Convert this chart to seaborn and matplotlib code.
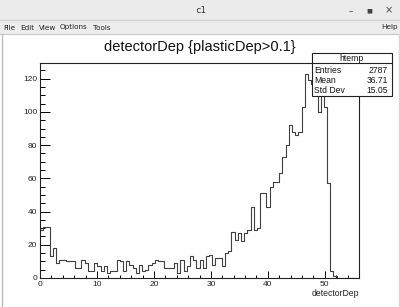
import numpy as np
import pandas as pd
import matplotlib
matplotlib.use("Agg")
import matplotlib.pyplot as plt
from matplotlib.patches import Rectangle
from matplotlib.lines import Line2D
from matplotlib.ticker import MultipleLocator
import seaborn as sns

# ---------------- data ----------------
x_min, x_max, n_bins = 0.0, 56.0, 100
counts = [29, 31, 31, 13, 18, 9, 11, 11, 10, 10,
          10, 6, 6, 11, 9, 4, 4, 9, 7, 4,
          7, 3, 4, 4, 11, 10, 4, 10, 8, 6,
          3, 8, 4, 5, 8, 9, 11, 10, 10, 6,
          6, 6, 9, 3, 11, 4, 7, 13, 11, 6,
          11, 6, 13, 14, 8, 12, 12, 7, 15, 16,
          28, 23, 27, 22, 27, 29, 43, 29, 30, 51,
          51, 43, 55, 58, 58, 63, 73, 80, 92, 88,
          86, 88, 103, 123, 119, 117, 113, 100, 112, 103,
          57, 4, 1, 0, 0, 0, 0, 0, 0, 0]
title = "detectorDep {plasticDep>0.1}"
xlabel = "detectorDep"
stats_name = "htemp"
stats_labels = ["Entries", "Mean", "Std Dev"]
stats_values = ["2787", "36.71", "15.05"]
x_ticks = [0, 10, 20, 30, 40, 50]
y_ticks = [0, 20, 40, 60, 80, 100, 120]
menu_items = ["File", "Edit", "View", "Options", "Tools"]
window_title = "c1"

edges = np.linspace(x_min, x_max, n_bins + 1)
centers = 0.5 * (edges[:-1] + edges[1:])
df = pd.DataFrame({"x": centers, "w": counts})

# ---------------- figure ----------------
W, H = 400, 307
fig = plt.figure(figsize=(W / 100, H / 100), dpi=100)
fig.patch.set_facecolor("white")

def fx(px):
    return px / W

def fy(py):
    return 1 - py / H

# window chrome
fig.patches.append(Rectangle((0, fy(20)), 1, 20 / H, transform=fig.transFigure,
                             facecolor="#ebebeb", edgecolor="none", zorder=0))
fig.patches.append(Rectangle((0, fy(34)), 1, 14 / H, transform=fig.transFigure,
                             facecolor="#ededed", edgecolor="none", zorder=0))
fig.lines.append(Line2D([0, 1], [fy(20), fy(20)], transform=fig.transFigure,
                        color="#d0d0d0", lw=0.8))
fig.lines.append(Line2D([0, 1], [fy(34), fy(34)], transform=fig.transFigure,
                        color="#c8c8c8", lw=0.8))
fig.lines.append(Line2D([fx(1.5), fx(1.5)], [0, fy(34)], transform=fig.transFigure,
                        color="#bdbdbd", lw=1.0))
fig.lines.append(Line2D([fx(398.5), fx(398.5)], [0, fy(34)], transform=fig.transFigure,
                        color="#d5d5d5", lw=1.0))

fig.text(0.5, fy(10.5), window_title, ha="center", va="center",
         fontsize=6.5, family="DejaVu Sans Mono", color="#333333")
fig.text(fx(351), fy(12), "\u2013", ha="center", va="center", fontsize=6, color="#444444")
fig.text(fx(369), fy(10.5), "\u25a0", ha="center", va="center", fontsize=4.5, color="#444444")
fig.text(fx(389), fy(10.5), "\u00d7", ha="center", va="center", fontsize=7, color="#444444")

menu_x = [3, 20, 39, 60, 93]
for mx, item in zip(menu_x, menu_items):
    fig.text(fx(mx), fy(27.5), item, ha="left", va="center", fontsize=5.2,
             family="DejaVu Sans", color="#222222")
fig.text(fx(398), fy(27.5), "Help", ha="right", va="center", fontsize=5.2,
         family="DejaVu Sans", color="#222222")

# axes
ax = fig.add_axes([fx(40), fy(278), (359 - 40) / W, (278 - 63) / H])
sns.histplot(data=df, x="x", weights="w", bins=n_bins, binrange=(x_min, x_max),
             element="step", fill=False, color="#404040", linewidth=0.8, ax=ax)
ax.set_xlim(x_min, x_max)
ax.set_ylim(0, 129.5)
ax.set_ylabel("")
ax.set_xlabel("")
for s in ax.spines.values():
    s.set_linewidth(0.8)
    s.set_color("#222222")
ax.set_xticks(x_ticks)
ax.set_yticks(y_ticks)
ax.xaxis.set_minor_locator(MultipleLocator(2))
ax.yaxis.set_minor_locator(MultipleLocator(5))
ax.tick_params(axis="x", which="major", direction="in", length=5, width=0.7,
               labelsize=6, pad=2, top=False)
ax.tick_params(axis="x", which="minor", direction="in", length=2.5, width=0.7, top=False)
ax.tick_params(axis="y", which="major", direction="in", length=7, width=0.7,
               labelsize=6, pad=2, right=False)
ax.tick_params(axis="y", which="minor", direction="in", length=3.5, width=0.7, right=False)
for lab in ax.get_xticklabels() + ax.get_yticklabels():
    lab.set_family("Liberation Sans")
    lab.set_color("#222222")

fig.text(0.5, fy(47), title, ha="center", va="center", fontsize=10.5,
         family="Liberation Sans", color="#111111")
fig.text(fx(359), fy(294), xlabel, ha="right", va="center", fontsize=6.2,
         family="Liberation Sans", color="#222222")

# stats box
bx0, bx1, by0, by1 = 311.5, 391.5, 53.3, 96.5
fig.patches.append(Rectangle((fx(bx0), fy(by1)), (bx1 - bx0) / W, (by1 - by0) / H,
                             transform=fig.transFigure, facecolor="white",
                             edgecolor="#222222", lw=0.8, zorder=5))
fig.lines.append(Line2D([fx(bx0), fx(bx1)], [fy(63.3), fy(63.3)],
                        transform=fig.transFigure, color="#222222", lw=0.8, zorder=6))
fig.text(fx(351.5), fy(58.3), stats_name, ha="center", va="center", fontsize=6.2,
         family="Liberation Sans", color="#111111", zorder=7)
rows_y = [70.3, 80.5, 90.5]
for ry, lab, val in zip(rows_y, stats_labels, stats_values):
    fig.text(fx(314), fy(ry), lab, ha="left", va="center", fontsize=6.2,
             family="Liberation Sans", color="#111111", zorder=7)
    fig.text(fx(388), fy(ry), val, ha="right", va="center", fontsize=6.2,
             family="Liberation Sans", color="#111111", zorder=7)

fig.savefig("out.png", dpi=100)
